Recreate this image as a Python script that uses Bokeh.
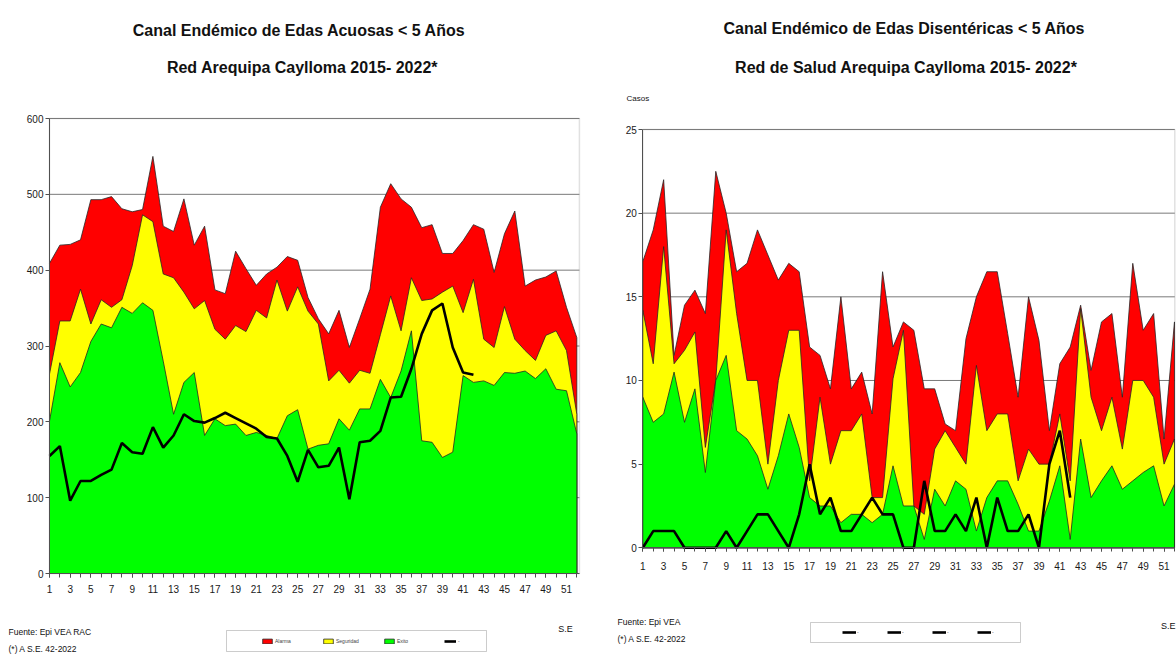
from bokeh.plotting import figure
from bokeh.models import (Label, Legend, LegendItem, FixedTicker, Range1d,
                          LinearAxis, BoxAnnotation)
from bokeh.layouts import row
from bokeh.embed import file_html
from bokeh.resources import INLINE

# ---------------- data ----------------
weeks = list(range(1, 53))
weeks_2022 = list(range(1, 43))
x_tick_weeks = list(range(1, 52, 2))

left_y_ticks = [0, 100, 200, 300, 400, 500, 600]
right_y_ticks = [0, 5, 10, 15, 20, 25]

# Left chart: EDA acuosas (< 5 years)
acu_alarma = [409, 433, 434, 440, 493, 493, 497, 481, 477, 480,
              550, 458, 451, 494, 433, 458, 374, 369, 425, 402,
              380, 395, 404, 418, 413, 364, 336, 316, 347, 298,
              336, 375, 483, 514, 494, 483, 456, 460, 422, 422,
              439, 460, 454, 397, 448, 478, 379, 387, 391, 399,
              351, 311]
acu_seguridad = [263, 333, 333, 375, 329, 361, 351, 361, 406, 473,
                 464, 395, 390, 371, 349, 360, 322, 309, 327, 319,
                 347, 337, 387, 346, 378, 346, 329, 254, 268, 251,
                 268, 264, 315, 366, 320, 390, 360, 362, 371, 379,
                 344, 388, 309, 298, 352, 309, 294, 281, 314, 320,
                 294, 210]
acu_exito = [201, 278, 246, 265, 306, 329, 324, 351, 343, 357,
             347, 280, 210, 252, 265, 182, 204, 195, 197, 182,
             186, 182, 178, 208, 216, 164, 169, 171, 204, 189,
             217, 217, 256, 232, 267, 320, 175, 173, 153, 160,
             261, 252, 254, 248, 265, 264, 267, 257, 270, 243,
             241, 184]
acu_2022 = [155, 168, 96, 122, 122, 130, 137, 172, 160, 158,
            193, 166, 182, 210, 201, 199, 205, 212, 205, 198,
            191, 180, 178, 155, 121, 163, 140, 142, 166, 98,
            173, 175, 188, 232, 233, 270, 316, 347, 356, 298,
            265, 262]

# Right chart: EDA disentericas (< 5 years)
dis_alarma = [17.1, 19.0, 22.0, 11.5, 14.5, 15.4, 14.0, 22.5, 20.0, 16.5,
              17.0, 19.0, 17.5, 16.0, 17.0, 16.5, 12.0, 11.5, 9.5, 15.0,
              9.5, 10.5, 8.0, 16.5, 12.0, 13.5, 13.0, 9.5, 9.5, 7.4,
              7.0, 12.5, 15.0, 16.5, 16.5, 12.8, 9.0, 15.0, 12.4, 7.0,
              11.0, 12.0, 14.5, 10.6, 13.5, 14.0, 9.0, 17.0, 13.0, 14.0,
              6.5, 13.5]
dis_seguridad = [14.2, 11.0, 18.0, 11.0, 11.8, 12.9, 6.0, 10.0, 19.0, 14.0,
                 10.0, 10.0, 5.0, 10.0, 13.0, 13.0, 4.0, 9.0, 5.0, 7.0,
                 7.0, 8.0, 3.0, 3.0, 10.1, 13.0, 2.5, 2.0, 5.9, 7.0,
                 6.0, 5.0, 10.9, 7.0, 8.0, 8.0, 4.0, 5.9, 5.0, 5.0,
                 8.0, 4.0, 14.3, 9.0, 7.0, 9.0, 5.9, 10.0, 10.0, 9.0,
                 5.0, 6.5]
dis_exito = [9.0, 7.5, 8.0, 10.5, 7.5, 9.5, 4.5, 10.0, 11.5, 7.0,
             6.5, 5.5, 3.5, 5.5, 8.0, 6.0, 3.0, 2.5, 2.5, 1.5,
             2.0, 2.0, 1.5, 2.0, 4.9, 2.5, 2.5, 0.5, 3.5, 2.5,
             4.0, 3.5, 1.0, 3.0, 4.0, 4.0, 2.6, 1.0, 1.0, 2.8,
             4.9, 0.5, 6.5, 3.0, 4.0, 4.9, 3.5, 4.0, 4.5, 4.9,
             2.5, 3.8]
dis_2022 = [0, 1, 1, 1, 0, 0, 0, 0, 1, 0,
            1, 2, 2, 1, 0, 2, 5, 2, 3, 1,
            1, 2, 3, 2, 2, 0, 0, 4, 1, 1,
            2, 1, 3, 0, 3, 1, 1, 2, 0, 5,
            7, 3]

left_title = ["Canal Endémico de Edas Acuosas  < 5 Años",
              "Red Arequipa Caylloma 2015- 2022*"]
right_title = ["Canal Endémico de Edas Disentéricas  < 5 Años",
               "Red  de Salud Arequipa Caylloma 2015- 2022*"]
left_legend_labels = ["Alarma", "Seguridad", "Exito", "-"]
right_legend_labels = ["-", "-", "-", "-"]

# ---------------- styling / layout ----------------
FONT = "Liberation Sans"
RED, YELLOW, GREEN = "#FF0000", "#FFFF00", "#00FF00"
H = 654


def make_fig(width, week1_px, px_per_week, zero_px, top_px, y_top):
    px_per_unit = (zero_px - top_px) / y_top
    p = figure(width=width, height=H,
               x_range=Range1d(1 - week1_px / px_per_week,
                               1 + (width - week1_px) / px_per_week),
               y_range=Range1d(-(H - zero_px) / px_per_unit, zero_px / px_per_unit),
               x_axis_type=None, y_axis_type=None,
               output_backend="svg", toolbar_location=None, min_border=0)
    p.title.visible = False
    p.outline_line_color = None
    return p


def add_axes(p, y_ticks, x_end, x_standoff):
    y_top = y_ticks[-1]
    # horizontal grid lines (behind the areas) and the chart border
    p.segment(x0=weeks[0], x1=x_end, y0=y_ticks[1:], y1=y_ticks[1:],
              line_color="#7a7a7a", line_width=1)
    p.add_layout(BoxAnnotation(left=weeks[0], right=x_end, bottom=0, top=y_top,
                               fill_alpha=0, line_color="#9a9a9a", line_width=1.5,
                               level="underlay"))
    xax = LinearAxis(fixed_location=0, bounds=(weeks[0], x_end),
                     ticker=FixedTicker(ticks=x_tick_weeks, minor_ticks=weeks))
    yax = LinearAxis(fixed_location=weeks[0], bounds=(0, y_top),
                     ticker=FixedTicker(ticks=y_ticks, minor_ticks=[]))
    for ax in (xax, yax):
        ax.major_label_text_font = FONT
        ax.major_label_text_font_size = "10px"
        ax.major_label_text_color = "#1a1a1a"
        ax.axis_line_color = "#505050"
        ax.major_tick_line_color = "#505050"
        ax.minor_tick_line_color = "#505050"
        ax.major_tick_in = 0
        ax.major_tick_out = 4
        ax.minor_tick_in = 0
        ax.minor_tick_out = 4
    xax.major_label_standoff = x_standoff
    yax.major_label_standoff = 2
    p.add_layout(xax, "below")
    p.add_layout(yax, "left")


def area(p, values, color):
    xs = weeks + [weeks[-1], weeks[0]]
    ys = list(values) + [0, 0]
    return p.patch(xs, ys, fill_color=color, line_color="#262626", line_width=0.8)


def label(p, x, y_top, text, size="8.5px", align="left", bold=False):
    # x, y_top: pixels from the figure's top-left corner
    p.add_layout(Label(x=x, y=H - y_top, x_units="screen", y_units="screen", text=text,
                       text_align=align, text_baseline="middle",
                       text_font=FONT, text_font_size=size,
                       text_font_style="bold" if bold else "normal",
                       text_color="#111111"))


def legend(p, items, box, first_glyph_x, center_y, stride, glyph_width, label_standoff):
    # box: (left, top, right, bottom) in pixels from the figure's top-left corner
    left, top, right, bottom = box
    p.add_layout(BoxAnnotation(left=left, right=right, top=H - top, bottom=H - bottom,
                               left_units="screen", right_units="screen",
                               top_units="screen", bottom_units="screen",
                               fill_color="white", fill_alpha=1,
                               line_color="#555555", line_width=1))
    lg = Legend(items=items, location=(first_glyph_x, H - center_y - 3),
                orientation="horizontal", margin=0, padding=0, spacing=0,
                glyph_width=glyph_width, glyph_height=6,
                label_standoff=label_standoff,
                label_width=stride - glyph_width - label_standoff,
                label_text_font=FONT, label_text_font_size="5px", label_height=6,
                border_line_color=None, background_fill_alpha=0)
    p.add_layout(lg)


# ---------------- left chart ----------------
L_XEND = 52.25
pl = make_fig(600, 49, 10.34, 573, 118, 600)
add_axes(pl, left_y_ticks, L_XEND, 7)
rl_red = area(pl, acu_alarma, RED)
rl_yel = area(pl, acu_seguridad, YELLOW)
rl_grn = area(pl, acu_exito, GREEN)
rl_line = pl.line(weeks_2022, acu_2022, line_color="black", line_width=2.6)

label(pl, 301, 30, left_title[0], size="16px", align="center", bold=True)
label(pl, 302, 67, left_title[1], size="16px", align="center", bold=True)
label(pl, 8, 631, "Fuente: Epi VEA RAC")
label(pl, 8, 648, "(*) A S.E.  42-2022")
label(pl, 565, 628, "S.E", size="9px", align="center")
legend(pl, [LegendItem(label=t, renderers=[r]) for t, r in
            zip(left_legend_labels, [rl_red, rl_yel, rl_grn, rl_line])],
       (226, 630, 486, 651), 261, 640.5, 61, 12, 2)

# ---------------- right chart ----------------
R_XEND = 52.03
pr = make_fig(576, 42.3, 10.425, 547.3, 129, 25)
add_axes(pr, right_y_ticks, R_XEND, 10)
rr_red = area(pr, dis_alarma, RED)
rr_yel = area(pr, dis_seguridad, YELLOW)
rr_grn = area(pr, dis_exito, GREEN)
rr_line = pr.line(weeks_2022, dis_2022, line_color="black", line_width=2.6)

label(pr, 306, 28, right_title[0], size="16px", align="center", bold=True)
label(pr, 308, 67, right_title[1], size="16px", align="center", bold=True)
label(pr, 26, 98, "Casos", size="8px")
label(pr, 17, 621, "Fuente: Epi VEA")
label(pr, 17, 638, "(*) A S.E. 42-2022")
label(pr, 575, 625, "S.E", size="9px", align="right")
legend(pr, [LegendItem(label=t, renderers=[rr_line]) for t in right_legend_labels],
       (210, 622, 420, 642), 242, 632, 45, 14, 1)

layout = row(pl, pr)
open("out.html", "w").write(file_html(layout, INLINE))
